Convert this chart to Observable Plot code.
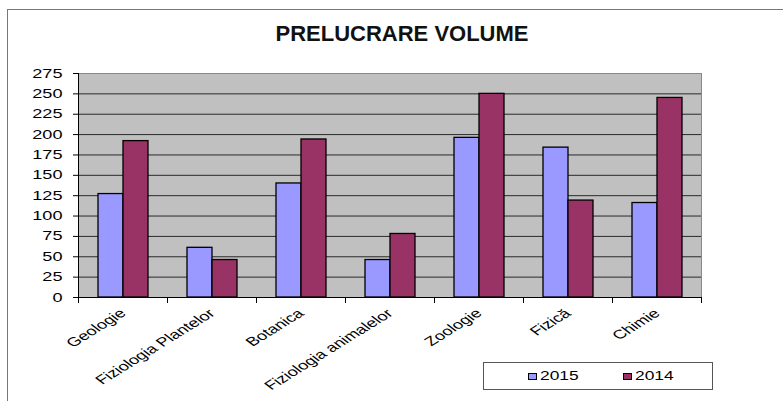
<!DOCTYPE html>
<html>
<head>
<meta charset="utf-8">
<script src="https://cdn.jsdelivr.net/npm/d3@7"></script>
<script src="https://cdn.jsdelivr.net/npm/@observablehq/plot@0.6"></script>
<style>
  html, body { margin: 0; padding: 0; background: #fff; }
  #wrap { position: relative; width: 783px; height: 401px; overflow: hidden; font-family: Arial, "Liberation Sans", sans-serif; }
  #border { position: absolute; left: 7px; top: 9px; width: 900px; height: 600px; border-left: 1px solid #777; border-top: 1px solid #777; }
  #title { position: absolute; left: 0; width: 804px; top: 21px; text-align: center; font-weight: bold; font-size: 22px; color: #111; }
  #chart { position: absolute; left: 0; top: 0; }
  #legend { position: absolute; left: 483px; top: 362px; width: 228px; height: 26px; border: 1px solid #555; background: #fff; }
  .item { position: absolute; top: 7px; font-size: 12px; line-height: 12px; display: flex; align-items: center; }
  .sw { display: inline-block; width: 7px; height: 5px; border: 1px solid #000; margin-right: 3px; }
  .lab { display: inline-block; transform: scaleX(1.45); transform-origin: left center; }
</style>
</head>
<body>
<div id="wrap">
  <div id="border"></div>
  <div id="chart"></div>
  <div id="title">PRELUCRARE VOLUME</div>
  <div id="legend"></div>
</div>
<script>
const categories = ["Geologie", "Fiziologia Plantelor", "Botanica", "Fiziologia animalelor", "Zoologie", "Fizică", "Chimie"];
const series = ["2015", "2014"];
const values2015 = [127, 61, 140, 46, 196, 184, 116];
const values2014 = [192, 46, 194, 78, 250, 119, 245];
const yTicks = [0, 25, 50, 75, 100, 125, 150, 175, 200, 225, 250, 275];
const colors = ["#9999FF", "#993366"];

const data = categories.flatMap((c, i) => [
  {category: c, year: series[0], value: values2015[i]},
  {category: c, year: series[1], value: values2014[i]}
]);

const plotH = 401 - 73 - 104;

const chart = Plot.plot({
  width: 783,
  height: 401,
  marginLeft: 77,
  marginRight: 81,
  marginTop: 73,
  marginBottom: 104,
  style: {fontFamily: "Arial, 'Liberation Sans', sans-serif", fontSize: "12.5px", background: "transparent", color: "#000", overflow: "visible"},
  fx: {domain: categories, padding: 0, label: null},
  x: {domain: series, paddingInner: 0, paddingOuter: 0.72, axis: null},
  y: {domain: [0, 275], label: null},
  color: {domain: series, range: colors},
  marks: [
    Plot.frame({fill: "#C0C0C0", stroke: "#C0C0C0"}),
    Plot.ruleY(yTicks.filter(d => d > 0 && d < 275), {stroke: "#2a2a2a", strokeWidth: 1}),
    Plot.frame({anchor: "top", stroke: "#888"}),
    Plot.frame({anchor: "right", stroke: "#888", facetAnchor: "right"}),
    Plot.barY(data, {fx: "category", x: "year", y: "value", fill: "year", stroke: "#000", strokeWidth: 1.3}),
    Plot.ruleY([0], {stroke: "#000"}),
    Plot.frame({anchor: "left", stroke: "#000", facetAnchor: "left"}),
    Plot.frame({anchor: "left", stroke: "#000", insetTop: plotH, insetBottom: -5}),
    Plot.frame({anchor: "right", stroke: "#000", insetTop: plotH, insetBottom: -5}),
    Plot.axisY({ticks: yTicks, tickSize: 5, tickPadding: 11, label: null, tickFormat: d => String(d)}),
    Plot.axisFx({anchor: "bottom", tickRotate: -42, tickSize: 0, tickPadding: 14, label: null})
  ]
});

// horizontally stretch the tick label glyphs as in the reference
chart.querySelectorAll('g[aria-label$="tick label"] text').forEach(t => {
  const tr = t.getAttribute("transform");
  const s = "scale(1.45,1)";
  if (tr) {
    t.setAttribute("transform", tr.includes("rotate") ? tr.replace("rotate", s + " rotate") : tr + " " + s);
  } else {
    const x = t.getAttribute("x") || 0, y = t.getAttribute("y") || 0;
    t.removeAttribute("x"); t.removeAttribute("y");
    t.setAttribute("transform", `translate(${x},${y}) ${s}`);
  }
});

document.getElementById("chart").appendChild(chart);

const legend = document.getElementById("legend");
const legendX = [44, 139];
series.forEach((s, i) => {
  const item = document.createElement("div");
  item.className = "item";
  item.style.left = legendX[i] + "px";
  item.innerHTML = `<span class="sw" style="background:${colors[i]}"></span><span class="lab">${s}</span>`;
  legend.appendChild(item);
});
</script>
</body>
</html>
